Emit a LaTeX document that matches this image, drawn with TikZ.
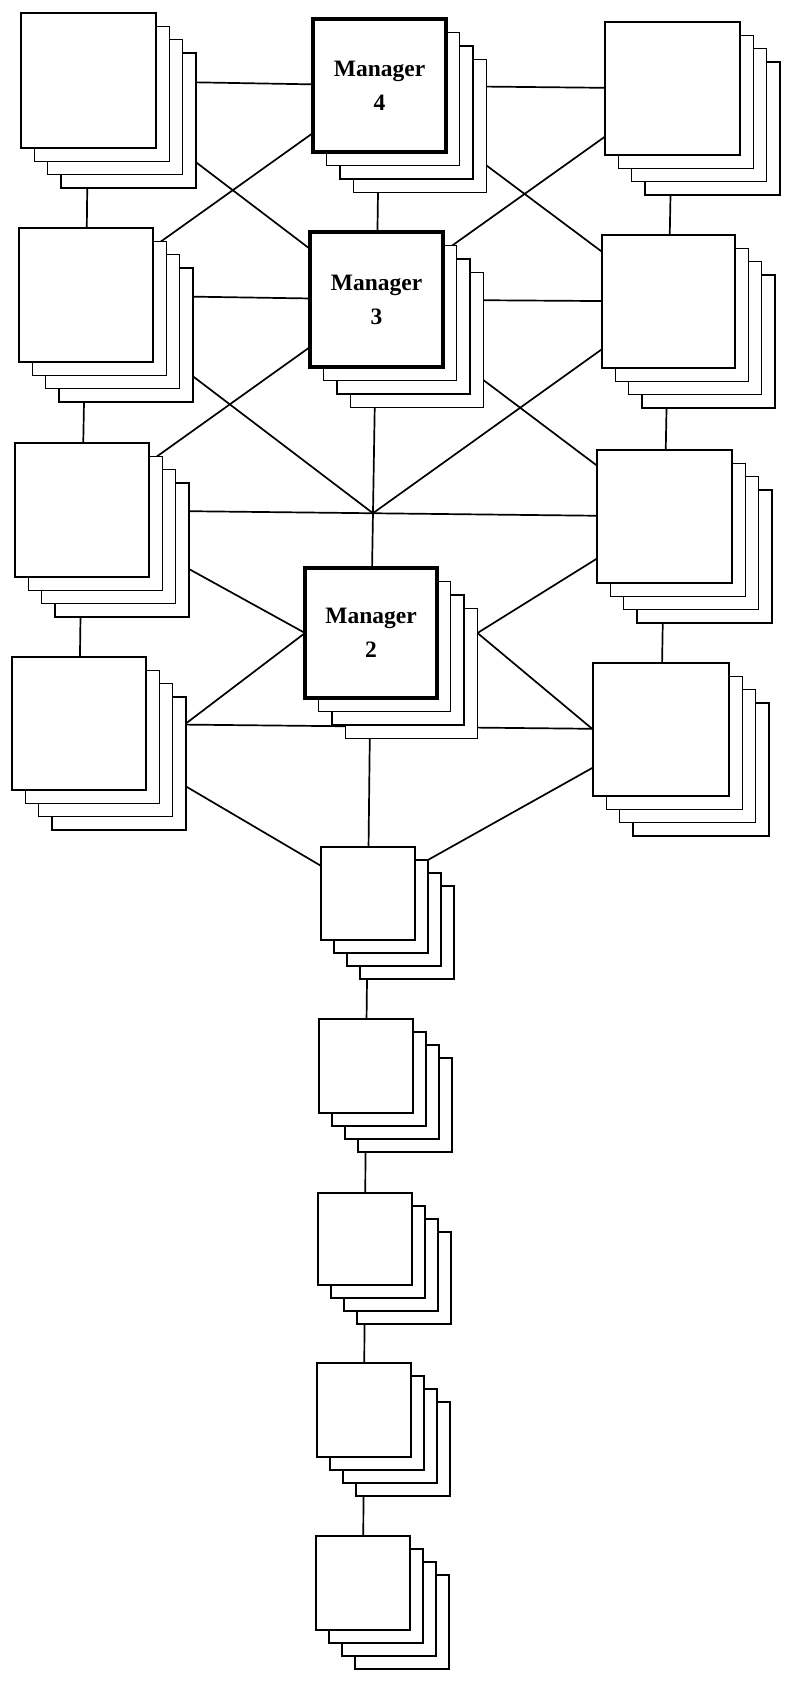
\documentclass[tikz,border=0pt]{standalone}
\usepackage{fontspec}
\setmainfont{Liberation Serif}

% connectors live on a layer below the card stacks, so the white cards hide their ends
\pgfdeclarelayer{wires}
\pgfsetlayers{wires,main}

\tikzset{
  card/.style={draw, fill=white, inner sep=0pt, outer sep=0pt},
  backcard/.style={card, line width=1.3pt},
  frontcard/.style={card, line width=2.2pt},
  mgrcard/.style={card, line width=3.8pt, align=center,
                  font=\bfseries\fontsize{23.5}{34}\selectfont},
  link/.style={line width=1.7pt, line cap=round},
}

% a stack of three back cards plus the front card
% #1 name, #2 cx, #3 cy, #4 width, #5 height, #6 card offset, #7 front style, #8 label
\newcommand{\cardstack}[8]{%
  \foreach \k in {3,2,1}{
    \node[backcard, minimum width=#4, minimum height=#5] (#1-\k) at (#2+\k*#6, #3+\k*#6) {};
  }
  \node[#7, minimum width=#4, minimum height=#5] (#1) at (#2,#3) {#8};
}

\begin{document}
\begin{tikzpicture}[x=1pt,y=-1pt]
\begin{pgfonlayer}{wires}
  \fill[white] (0,0) rectangle (786,1681);
\end{pgfonlayer}
\useasboundingbox (0,0) rectangle (786,1681);

% left column
\cardstack{L1}{88.5}{80.5}{135}{135}{13.3}{frontcard}{}
\cardstack{L2}{86}{295}{134}{134}{13.3}{frontcard}{}
\cardstack{L3}{82}{510}{134}{134}{13.3}{frontcard}{}
\cardstack{L4}{79}{723.5}{134}{133}{13.3}{frontcard}{}

% managers
\cardstack{M4}{379.5}{85.5}{133}{133}{13.5}{mgrcard}{Manager\\4}
\cardstack{M3}{376.5}{299.5}{133}{135}{13.5}{mgrcard}{Manager\\3}
\cardstack{M2}{371}{633}{132}{130}{13.5}{mgrcard}{Manager\\2}

% right column
\cardstack{R1}{672.5}{88.5}{135}{133}{13.3}{frontcard}{}
\cardstack{R2}{668.5}{301.5}{133}{133}{13.3}{frontcard}{}
\cardstack{R3}{664.5}{516.5}{135}{133}{13.3}{frontcard}{}
\cardstack{R4}{661}{729.5}{136}{133}{13.3}{frontcard}{}

% lower chain
\cardstack{B1}{368}{893.5}{94}{93}{13}{frontcard}{}
\cardstack{B2}{366}{1066}{94}{94}{13}{frontcard}{}
\cardstack{B3}{365}{1239}{94}{92}{13}{frontcard}{}
\cardstack{B4}{364}{1410}{94}{94}{13}{frontcard}{}
\cardstack{B5}{363}{1583}{94}{94}{13}{frontcard}{}

% hub where the central lines cross
\coordinate (J) at (intersection of L3.center--R3.center and M3.center--M2.center);
\coordinate (M2r) at (M2-3.east |- M2.center);
\coordinate (L4r) at (L4-3.east |- L4.center);

\begin{pgfonlayer}{wires}
  % columns
  \draw[link] (L1.center) -- (L2.center) -- (L3.center) -- (L4.center);
  \draw[link] (R1.center) -- (R2.center) -- (R3.center) -- (R4.center);
  \draw[link] (M4.center) -- (M3.center) -- (M2.center) -- (B1.center);
  \draw[link] (B1.center) -- (B2.center) -- (B3.center) -- (B4.center) -- (B5.center);
  % top rows
  \draw[link] (L1.center) -- (M4.center) -- (R1.center);
  \draw[link] (L2.center) -- (M3.center) -- (R2.center);
  \draw[link] (L1.center) -- (M3.center);
  \draw[link] (L2.center) -- (M4.center);
  \draw[link] (R1.center) -- (M3.center);
  \draw[link] (R2.center) -- (M4.center);
  \draw[link] (M3.center) -- (L3.center);
  \draw[link] (M3.center) -- (R3.center);
  % hub
  \draw[link] (L2.center) -- (J) -- (R2.center);
  \draw[link] (L3.center) -- (R3.center);
  % around manager 2
  \draw[link] (L3.center) -- (M2.west) -- (L4r);
  \draw[link] (R3.center) -- (M2r) -- (R4.west);
  \draw[link] (L4.center) -- (R4.center);
  % down to the chain
  \draw[link] (L4.center) -- (B1.center) -- (R4.center);
\end{pgfonlayer}
\end{tikzpicture}
\end{document}
